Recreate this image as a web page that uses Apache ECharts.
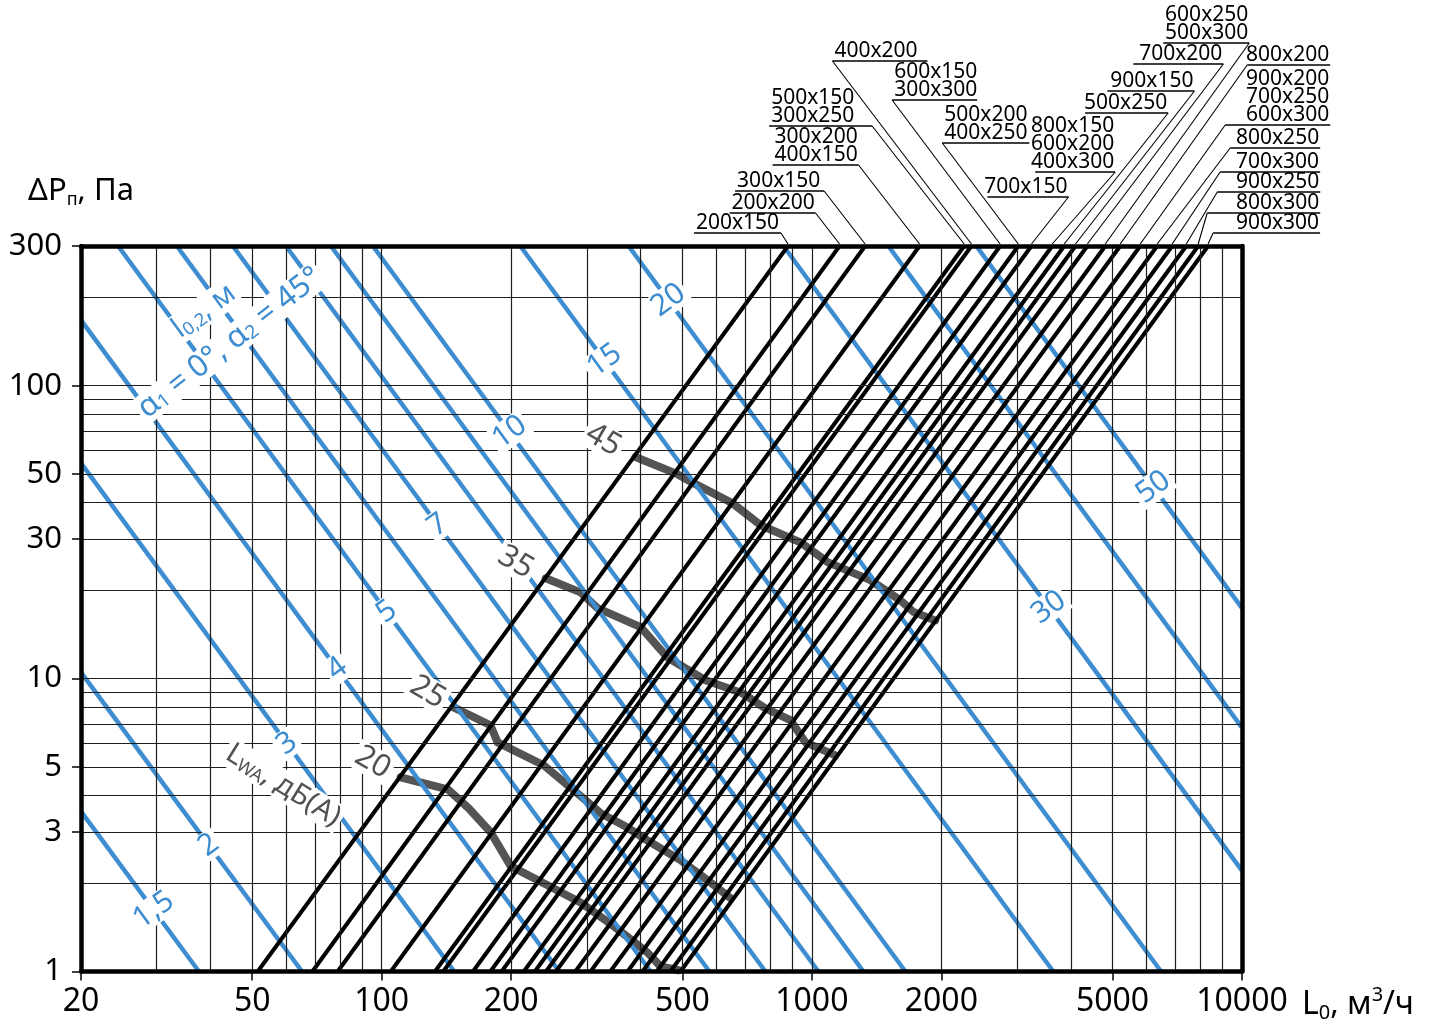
<!DOCTYPE html>
<html>
<head>
<meta charset="utf-8">
<script src="https://cdn.jsdelivr.net/npm/echarts@6/dist/echarts.min.js"></script>
<style>
  html, body { margin: 0; padding: 0; background: #fff; }
  #chart { width: 1434px; height: 1025px; }
</style>
</head>
<body>
<div id="chart"></div>
<script>
// ---- Axis ticks and grid ----
const flowTicks = [20, 50, 100, 200, 500, 1000, 2000, 5000, 10000];
const pressureTicks = [1, 3, 5, 10, 30, 50, 100, 300];
const flowGrid = [30, 40, 50, 60, 70, 80, 90, 100, 200, 300, 400, 500, 600, 700, 800, 900,
                  1000, 2000, 3000, 4000, 5000, 6000, 7000, 8000, 9000];
const pressureGrid = [2, 3, 4, 5, 6, 7, 8, 9, 10, 20, 30, 40, 50, 60, 70, 80, 90, 100, 200];

// ---- Duct sizes: one pressure-loss line per group, flow (m3/h) at 1 Pa and 300 Pa ----
const ductSizes = [
  ['200x150'], ['200x200'], ['300x150'], ['300x200', '400x150'], ['500x150', '300x250'],
  ['400x200'], ['600x150', '300x300'], ['500x200', '400x250'], ['700x150'],
  ['800x150', '600x200', '400x300'], ['500x250'], ['900x150'], ['700x200'],
  ['600x250', '500x300'], ['800x200'], ['900x200', '700x250', '600x300'], ['800x250'],
  ['700x300'], ['900x250'], ['800x300'], ['900x300']
];
const ductFlowAt1Pa = [51.5, 69, 79, 105, 133, 139, 163, 179, 190, 214, 227, 241, 254, 282, 306,
                       340, 373, 404, 436, 469, 495];
const ductFlowAt300Pa = [880, 1160, 1330, 1780, 2260, 2350, 2740, 3020, 3240, 3620, 3860, 4100,
                         4370, 4810, 5210, 5800, 6350, 6880, 7420, 7910, 8340];

// ---- Throw length l0,2 (m): end points [flow, pressure] ----
const throwLabels = ['1,5', '2', '3', '4', '5', '', '7', '', '', '10', '15', '20', '30', '', '50'];
const throwStart = [[20, 3.52], [20, 10.5], [20, 54.4], [20, 167.6], [24.4, 300], [33.4, 300],
                    [45.1, 300], [59.9, 300], [76.2, 300], [95.4, 300], [210, 300], [375, 300],
                    [859, 300], [1506, 300], [2412, 300]];
const throwEnd = [[37.6, 1], [65.3, 1], [147.5, 1], [258.8, 1], [421.8, 1], [578, 1], [780, 1],
                  [1036, 1], [1318, 1], [1650, 1], [3642, 1], [6486, 1], [10000, 2.21],
                  [10000, 6.8], [10000, 17.4]];

// ---- Sound power level LwA, dB(A) ----
const soundLevels = ['20', '25', '35', '45'];
const sound20 = [[110.7, 4.60], [142.4, 4.19], [159.3, 3.61], [179.2, 2.99], [199.5, 2.29],
                 [243, 1.97], [290, 1.72], [346, 1.43], [415, 1.16], [445, 1.04], [490, 1.01]];
const sound25 = [[147, 7.98], [179, 6.93], [186, 6.06], [238, 5.06], [285, 4.06], [323, 3.47],
                 [373, 3.10], [415, 2.80], [495, 2.40], [572, 2.05], [647, 1.78]];
const sound35 = [[240.6, 22.0], [290, 19.7], [317.6, 17.4], [400, 15.0], [462, 11.8], [566, 9.87],
                 [690, 8.91], [780, 7.92], [892, 7.21], [966, 6.06], [1135, 5.47]];
const sound45 = [[389, 57.1], [487, 49.9], [531, 46.5], [654, 39.7], [760, 33.4], [941, 29.2],
                 [1087, 25.0], [1368, 21.7], [1606, 18.5], [1722, 16.9], [1936, 15.8]];

// ---- Layout ----
const FONT = '"Noto Sans", "Open Sans", sans-serif';
const BLUE = '#3d8dd0';
const GREY = '#545454';
const GREY_TEXT = '#525252';
// pressure at which each throw label sits on its line
const throwLabelAt = [1.62, 2.7, 6.0, 10.8, 16.9, null, 33.4, null, null, 69.4, 122, 196, 17.5, null, 45];
// duct label blocks, offsets in px from the line's top end
const ductLabelLayout = [
  { u0: -94,  u1: -7,  dy: -13,  attach: 'end',   align: 'left' },
  { u0: -110, u1: -24, dy: -33,  attach: 'end',   align: 'left' },
  { u0: -130, u1: -41, dy: -55,  attach: 'end',   align: 'left' },
  { u0: -147, u1: -61, dy: -81,  attach: 'end',   align: 'left' },
  { u0: -195, u1: -92, dy: -120, attach: 'end',   align: 'left' },
  { u0: -139, u1: -44, dy: -185, attach: 'start', align: 'left' },
  { u0: -108, u1: -23, dy: -146, attach: 'start', align: 'left' },
  { u0: -76,  u1: 11,  dy: -103, attach: 'start', align: 'left' },
  { u0: -44,  u1: 37,  dy: -49,  attach: 'end',   align: 'right' },
  { u0: -17,  u1: 63,  dy: -74,  attach: 'end',   align: 'right' },
  { u0: 21,   u1: 104, dy: -133, attach: 'end',   align: 'right' },
  { u0: 32,   u1: 119, dy: -155, attach: 'end',   align: 'right' },
  { u0: 46,   u1: 136, dy: -182, attach: 'end',   align: 'right' },
  { u0: 58,   u1: 144, dy: -203, attach: 'end',   align: 'right' },
  { u0: 127,  u1: 210, dy: -181, attach: 'start', align: 'right' },
  { u0: 85,   u1: 190, dy: -121, attach: 'start', align: 'right' },
  { u0: 73,   u1: 163, dy: -98,  attach: 'start', align: 'right' },
  { u0: 48,   u1: 148, dy: -74,  attach: 'start', align: 'right' },
  { u0: 31,   u1: 134, dy: -54,  attach: 'start', align: 'right' },
  { u0: 9,    u1: 122, dy: -33,  attach: 'start', align: 'right' },
  { u0: 5,    u1: 112, dy: -13,  attach: 'start', align: 'right' }
];
const soundLabelOffset = [[-28, -15], [-26, -15], [-30, -16], [-32, -17]];

// point on a straight log-log line at a given pressure
function flowOnLine(a, b, p) {
  const la = Math.log10(a[0]), lb = Math.log10(b[0]);
  const pa = Math.log10(a[1]), pb = Math.log10(b[1]);
  const t = (Math.log10(p) - pa) / (pb - pa);
  return Math.pow(10, la + t * (lb - la));
}

// in-plot captions: anchor [flow, pressure], rotation, offset and text style
const captions = [];
throwLabels.forEach((t, i) => {
  if (!t) return;
  captions.push({
    at: [flowOnLine(throwStart[i], throwEnd[i], throwLabelAt[i]), throwLabelAt[i]],
    text: t, rotate: 36, offset: [0, 0],
    style: { fill: BLUE, font: '30px ' + FONT, lineHeight: 26, padding: [1, 3] }
  });
});
[sound20, sound25, sound35, sound45].forEach((pts, k) => {
  captions.push({
    at: pts[0], text: soundLevels[k], rotate: -30, offset: soundLabelOffset[k],
    style: { fill: GREY_TEXT, font: '31px ' + FONT, lineHeight: 28, padding: [1, 3] }
  });
});
const sub = (size, color) => ({ fontSize: size, fontFamily: FONT, fill: color, lineHeight: 14, verticalAlign: 'bottom' });
const main = (size, color) => ({ fontSize: size, fontFamily: FONT, fill: color, lineHeight: 30 });
captions.push({
  at: [59, 4.32], text: '{t|L}{s|WA}{t|, дБ(А)}', rotate: -32, offset: [0, 0],
  style: { padding: [0, 3], rich: { t: main(29, GREY_TEXT), s: sub(18, GREY_TEXT) } }
});
captions.push({
  at: [38.6, 180], text: '{t|l}{s|0,2}{t|, м}', rotate: 36, offset: [0, 0],
  style: { padding: [0, 3], rich: { t: main(29, BLUE), s: sub(18, BLUE) } }
});
captions.push({
  at: [44.4, 140], text: '{t|α}{s|1}{t| = 0°, α}{s|2}{t| = 45°}', rotate: 38, offset: [0, 0],
  style: { padding: [0, 3], rich: { t: main(31, BLUE), s: sub(19, BLUE) } }
});

const series = [];

// grid lines
series.push({
  type: 'line', data: [[20, 1]], showSymbol: false, silent: true, z: 1,
  lineStyle: { opacity: 0 },
  markLine: {
    silent: true, symbol: ['none', 'none'], animation: false,
    label: { show: false },
    lineStyle: { color: '#1e1e1e', width: 1.2, type: 'solid' },
    emphasis: { disabled: true },
    data: flowGrid.map(v => ({ xAxis: v })).concat(pressureGrid.map(v => ({ yAxis: v })))
  }
});

// sound level contours
[sound20, sound25, sound35, sound45].forEach((pts, k) => {
  series.push({
    type: 'line', name: 'LwA ' + soundLevels[k], data: pts, showSymbol: false, silent: true, z: 2,
    lineStyle: { color: GREY, width: 8, cap: 'round', join: 'round' }
  });
});

// throw lines
throwStart.forEach((s, i) => {
  series.push({
    type: 'line', name: 'l0,2 ' + (throwLabels[i] || i), data: [s, throwEnd[i]],
    showSymbol: false, silent: true, z: 3,
    lineStyle: { color: BLUE, width: 4.5 }
  });
});

// duct pressure-loss lines
ductFlowAt1Pa.forEach((f, i) => {
  series.push({
    type: 'line', name: ductSizes[i].join('/'), data: [[f, 1], [ductFlowAt300Pa[i], 300]],
    showSymbol: false, silent: true, z: 4,
    lineStyle: { color: '#000', width: 4 }
  });
});

// in-plot captions on white boxes
series.push({
  type: 'custom', silent: true, z: 8, clip: false,
  encode: { x: 0, y: 1 },
  data: captions.map((c, i) => [c.at[0], c.at[1], i]),
  renderItem: function (params, api) {
    const c = captions[api.value(2)];
    const pt = api.coord([api.value(0), api.value(1)]);
    return {
      type: 'text',
      x: pt[0] + c.offset[0], y: pt[1] + c.offset[1],
      rotation: c.rotate * Math.PI / 180,
      style: Object.assign({
        text: c.text, x: 0, y: 0,
        align: 'center', verticalAlign: 'middle',
        backgroundColor: '#fff'
      }, c.style)
    };
  }
});

// duct size labels with leader lines
series.push({
  type: 'custom', silent: true, z: 9, clip: false,
  encode: { x: 0, y: 1 },
  data: ductFlowAt300Pa.map((f, i) => [f, 300, i]),
  renderItem: function (params, api) {
    const i = api.value(2);
    const top = api.coord([api.value(0), api.value(1)]);
    const L = ductLabelLayout[i];
    const uy = top[1] + L.dy;
    const x0 = top[0] + L.u0, x1 = top[0] + L.u1;
    const ax = L.attach === 'start' ? x0 : x1;
    const rows = ductSizes[i];
    const children = [
      { type: 'line', shape: { x1: x0, y1: uy, x2: x1, y2: uy }, style: { stroke: '#000', lineWidth: 1.4 } },
      { type: 'line', shape: { x1: ax, y1: uy, x2: top[0], y2: top[1] - 2 }, style: { stroke: '#000', lineWidth: 1.1 } }
    ];
    rows.forEach((t, j) => {
      const tx = L.align === 'left' ? x0 + 2 : x1 - 1;
      children.push({
        type: 'text',
        style: {
          text: t, x: tx, y: uy - 10 - (rows.length - 1 - j) * 18,
          fill: '#000', font: '21px ' + FONT,
          align: L.align, verticalAlign: 'middle'
        }
      });
    });
    return { type: 'group', children: children };
  }
});

const chart = echarts.init(document.getElementById('chart'), null, { renderer: 'canvas' });
chart.setOption({
  animation: false,
  backgroundColor: '#fff',
  textStyle: { fontFamily: FONT },
  grid: { left: 81, right: 192, top: 246, bottom: 53.5, containLabel: false },
  xAxis: [
    {
      type: 'log', logBase: 10, min: 20, max: 10000, position: 'bottom', z: 6,
      axisLine: { show: true, lineStyle: { color: '#000', width: 4.5 } },
      axisTick: { show: true, customValues: flowTicks, length: 9, lineStyle: { color: '#000', width: 1.5 } },
      axisLabel: { customValues: flowTicks, color: '#000', fontSize: 32, fontFamily: FONT, margin: 14,
                   formatter: v => String(v) },
      splitLine: { show: false }, minorTick: { show: false },
      name: '{a|L}{s|0}{a|, м}{p|3}{a|/ч}', nameLocation: 'end', nameGap: 60,
      nameTextStyle: {
        verticalAlign: 'top', padding: [14, 0, 0, 0],
        rich: {
          a: { fontSize: 32, color: '#000', fontFamily: FONT, lineHeight: 38 },
          s: { fontSize: 20, color: '#000', fontFamily: FONT, lineHeight: 18, verticalAlign: 'bottom' },
          p: { fontSize: 20, color: '#000', fontFamily: FONT, lineHeight: 18, verticalAlign: 'top' }
        }
      }
    },
    {
      type: 'log', logBase: 10, min: 20, max: 10000, position: 'top', z: 6,
      axisLine: { show: true, lineStyle: { color: '#000', width: 4.5 } },
      axisTick: { show: false }, axisLabel: { show: false }, splitLine: { show: false }
    }
  ],
  yAxis: [
    {
      type: 'log', logBase: 10, min: 1, max: 300, position: 'left', z: 6,
      axisLine: { show: true, lineStyle: { color: '#000', width: 4.5 } },
      axisTick: { show: true, customValues: pressureTicks, length: 9, lineStyle: { color: '#000', width: 1.5 } },
      axisLabel: { customValues: pressureTicks, color: '#000', fontSize: 31, fontFamily: FONT, margin: 19,
                   formatter: v => String(v) },
      splitLine: { show: false }, minorTick: { show: false },
      name: '{a|ΔP}{s|п}{a|, Па}', nameLocation: 'end', nameGap: 37,
      nameTextStyle: {
        rich: {
          a: { fontSize: 31, color: '#000', fontFamily: FONT, lineHeight: 36 },
          s: { fontSize: 18, color: '#000', fontFamily: FONT, lineHeight: 18, verticalAlign: 'bottom' }
        }
      }
    },
    {
      type: 'log', logBase: 10, min: 1, max: 300, position: 'right', z: 6,
      axisLine: { show: true, lineStyle: { color: '#000', width: 4.5 } },
      axisTick: { show: false }, axisLabel: { show: false }, splitLine: { show: false }
    }
  ],
  series: series
});
</script>
</body>
</html>
